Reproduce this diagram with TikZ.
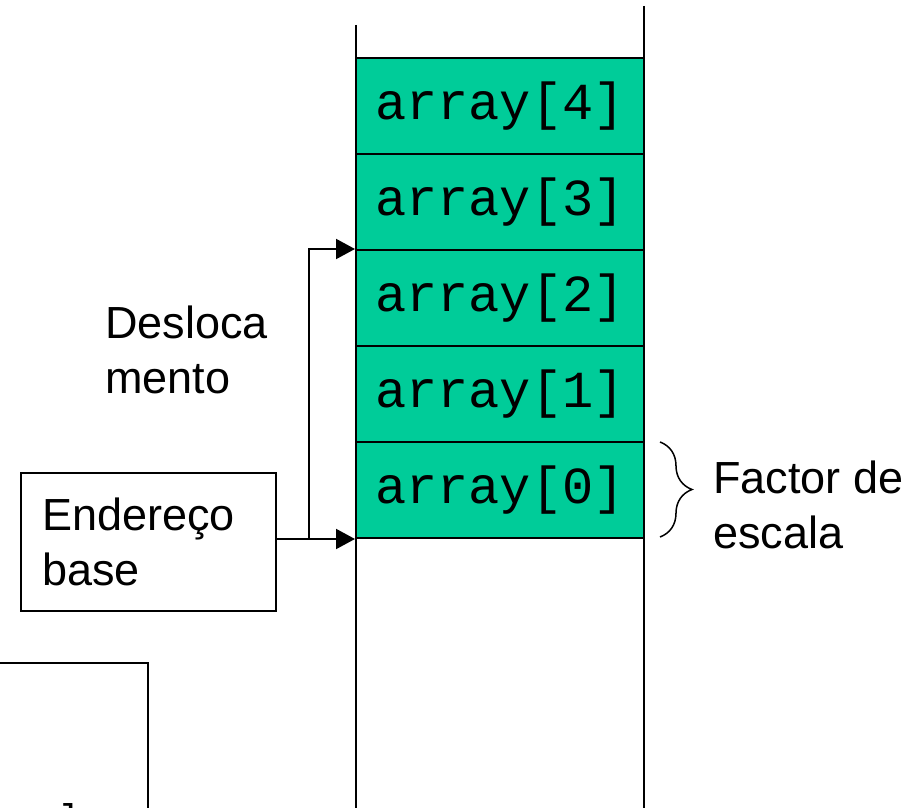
\documentclass[tikz,border=0pt]{standalone}
\usepackage{fontspec}
\setmainfont{Liberation Sans}
\setmonofont{Liberation Mono}
\usepackage{tikz}
\usetikzlibrary{arrows.meta,decorations.pathreplacing}
\definecolor{cellgreen}{RGB}{0,204,153}

\begin{document}
\begin{tikzpicture}[x=0.5pt,y=-0.5pt,
		cell/.style={rectangle,draw,line width=1pt,fill=cellgreen,minimum width=144pt,minimum height=48pt,inner sep=0pt,font=\fontsize{26}{30}\selectfont\ttfamily},
		lbl/.style={align=left,inner sep=0pt,anchor=north west,font=\fontsize{22.5}{27.5}\selectfont},
		ptr/.style={line width=1pt,-{Triangle[length=9.5pt,width=10pt]}}]
		\useasboundingbox (0,0) rectangle (918,808);
%		\draw[help lines] (0,0) grid (918,808);
		\path (356,25) coordinate (stack_lt);
		\path (356,808) coordinate (stack_lb);
		\path (644,6) coordinate (stack_rt);
		\path (644,808) coordinate (stack_rb);
		\path (-10,663) coordinate (code_lt);
		\path (148,663) coordinate (code_rt);
		\path (148,820) coordinate (code_rb);
		\path (309,538) coordinate (split);
		\path (660,442) coordinate (brace_top);
		\path (660,537) coordinate (brace_bot);

		\draw[line width=1pt] (stack_lt) -- (stack_lb);
		\draw[line width=1pt] (stack_rt) -- (stack_rb);
		\foreach \i in {0,...,4}
			\path (500,490-96*\i) node(cell\i) [cell] {array[\i]};

		\path (148.5,542) node(base) [draw,line width=1pt,minimum width=127.5pt,minimum height=69pt,text width=106.5pt,inner xsep=10.5pt,align=left,font=\fontsize{22.5}{27.5}\selectfont] {Endereço\\base};
		\path (105,305) node(offset) [lbl] {Desloca\\mento};
		\path (713,460) node(scale) [lbl] {Factor de\\escala};

		\draw[ptr] (base.east |- cell0.south west) -- (cell0.south west);
		\draw[ptr] (split) |- (cell2.north west);
		\draw[line width=0.75pt,decorate,decoration={brace,amplitude=16pt}] (brace_top) -- (brace_bot);

		\draw[line width=1pt] (code_lt) -- (code_rt) -- (code_rb);
		\path (71,803) node(code_txt) [anchor=north,inner sep=0pt,font=\fontsize{20}{24}\selectfont\ttfamily] {l};
\end{tikzpicture}
\end{document}
